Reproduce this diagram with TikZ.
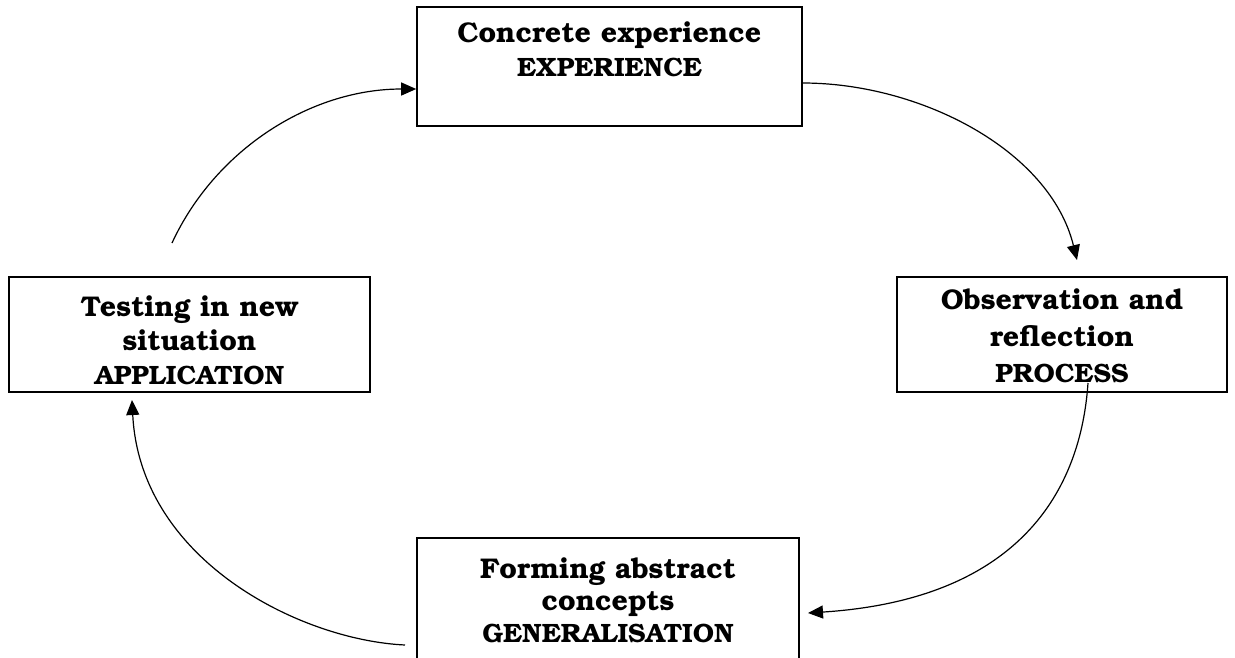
\documentclass[tikz,border=0pt]{standalone}
\usepackage[T1]{fontenc}
\usepackage{bookman}
\usetikzlibrary{arrows.meta}
\tikzset{
  box/.style={draw, line width=1.6pt, rectangle, inner sep=0pt},
  big/.style={anchor=base, inner sep=0pt, font=\fontsize{28.5}{32}\selectfont\bfseries},
  caps/.style={anchor=base, inner sep=0pt, font=\fontsize{26.5}{30}\selectfont\bfseries},
  conn/.style={line width=1.2pt, -{Triangle[length=15pt,width=13pt]}}
}
\begin{document}
\begin{tikzpicture}[x=1pt,y=-1pt]
\useasboundingbox (0,0) rectangle (1235,657);
\clip (0,0) rectangle (1235,657);
% boxes
\node[box, minimum width=385pt, minimum height=119pt] (ce) at (609.5,66.5) {};
\node[box, minimum width=361pt, minimum height=115pt] (tn) at (189.5,334.5) {};
\node[box, minimum width=330pt, minimum height=115pt] (or) at (1062,334.5) {};
\node[box, minimum width=382pt, minimum height=140pt] (fa) at (608,608) {};
% texts
\node[big]  (ce1) at (609.5,42) {Concrete experience};
\node[caps] (ce2) at (609.5,76) {EXPERIENCE};
\node[big]  (tn1) at (189.5,316) {Testing in new};
\node[big]  (tn2) at (189.5,350) {situation};
\node[caps] (tn3) at (189.5,384) {APPLICATION};
\node[big]  (or1) at (1062,309) {Observation and};
\node[big]  (or2) at (1062,346) {reflection};
\node[caps] (or3) at (1062,382) {PROCESS};
\node[big]  (fa1) at (608,578) {Forming abstract};
\node[big]  (fa2) at (608,610) {concepts};
\node[caps] (fa3) at (608,642) {GENERALISATION};
% connector end points
\coordinate (s1) at (172,243);
\coordinate (e2) at (1077,260);
\coordinate (s3) at (1088,383);
\coordinate (e3) at (808,613);
\coordinate (s4) at (405,645);
\coordinate (e4) at (132,400);
% connectors
\draw[conn] (s1) .. controls (215,150) and (310,89) .. ([yshift=-22.5pt]ce.west);
\draw[conn] ([yshift=-16.5pt]ce.east) .. controls (920,83) and (1050,150) .. (e2);
\draw[conn] (s3) .. controls (1080,500) and (1010,600) .. (e3);
\draw[conn] (s4) .. controls (300,640) and (140,560) .. (e4);
\end{tikzpicture}
\end{document}
